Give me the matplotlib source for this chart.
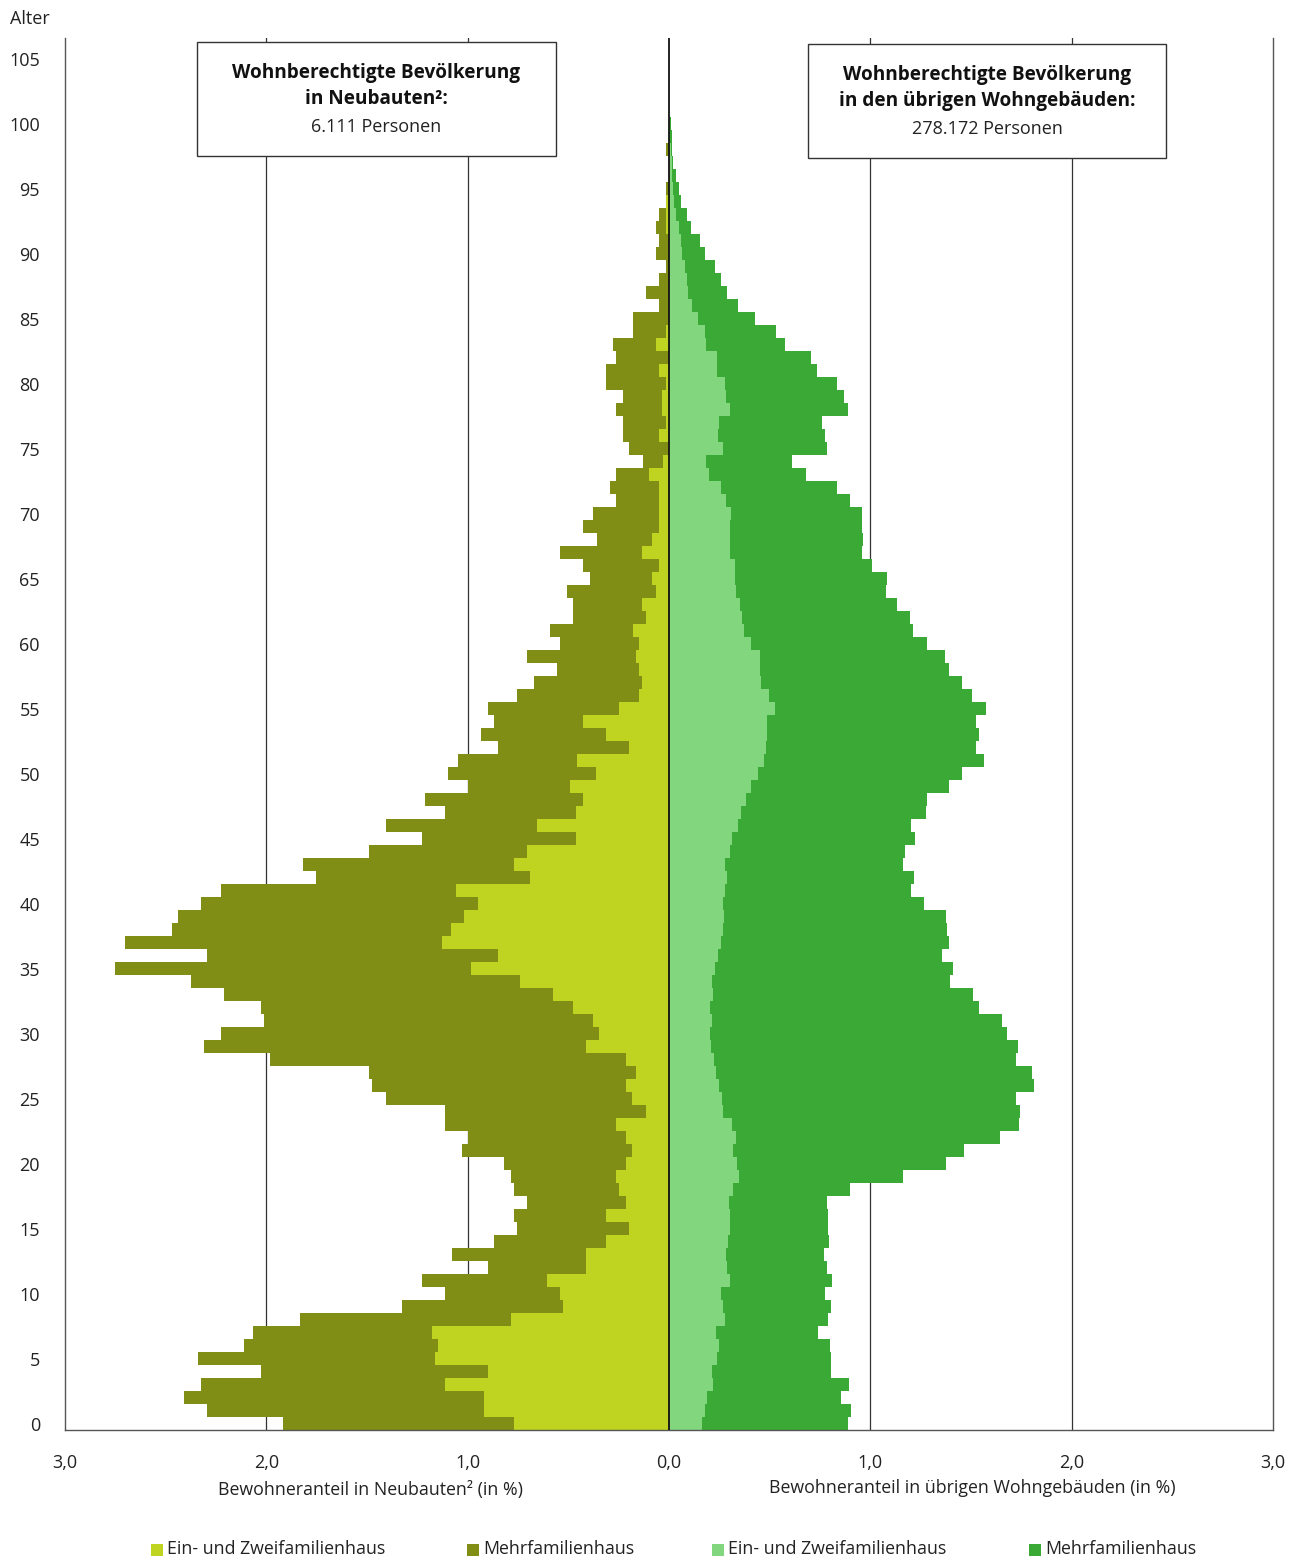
import matplotlib
matplotlib.use("Agg")
import matplotlib.pyplot as plt
from matplotlib.patches import Rectangle

plt.rcParams['font.family'] = ['Open Sans', 'DejaVu Sans']

ages = list(range(0, 101))

# Neubauten (left side), share in %
neu_ein = [0.770, 0.918, 0.918, 1.113, 0.901, 1.161, 1.147, 1.177, 0.785, 0.525,
           0.541, 0.605, 0.410, 0.410, 0.312, 0.199, 0.312, 0.215, 0.246, 0.262,
           0.215, 0.183, 0.215, 0.262, 0.115, 0.183, 0.215, 0.165, 0.215, 0.410,
           0.346, 0.378, 0.477, 0.574, 0.738, 0.982, 0.851, 1.129, 1.082, 1.016,
           0.950, 1.060, 0.688, 0.770, 0.706, 0.461, 0.654, 0.461, 0.429, 0.493,
           0.362, 0.459, 0.197, 0.313, 0.427, 0.247, 0.149, 0.132, 0.149, 0.164,
           0.149, 0.180, 0.116, 0.132, 0.066, 0.083, 0.050, 0.132, 0.083, 0.050,
           0.050, 0.050, 0.050, 0.099, 0.031, 0.000, 0.050, 0.017, 0.033, 0.033,
           0.017, 0.050, 0.000, 0.066, 0.017, 0.000, 0.000, 0.000, 0.000, 0.000,
           0.000, 0.000, 0.017, 0.017, 0.017, 0.000, 0.000, 0.000, 0.000, 0.000,
           0.000]
neu_mehr = [1.147, 1.375, 1.490, 1.210, 1.127, 1.179, 0.966, 0.887, 1.047, 0.799,
            0.571, 0.620, 0.491, 0.668, 0.557, 0.555, 0.458, 0.491, 0.524, 0.523,
            0.604, 0.847, 0.785, 0.850, 0.997, 1.225, 1.258, 1.324, 1.765, 1.899,
            1.881, 1.636, 1.551, 1.635, 1.634, 1.768, 1.442, 1.571, 1.388, 1.422,
            1.373, 1.167, 1.064, 1.047, 0.783, 0.766, 0.754, 0.651, 0.782, 0.507,
            0.736, 0.588, 0.654, 0.621, 0.441, 0.654, 0.604, 0.539, 0.407, 0.540,
            0.391, 0.410, 0.359, 0.343, 0.441, 0.309, 0.376, 0.408, 0.276, 0.376,
            0.326, 0.213, 0.243, 0.164, 0.100, 0.197, 0.180, 0.213, 0.230, 0.197,
            0.294, 0.261, 0.263, 0.212, 0.163, 0.180, 0.050, 0.114, 0.050, 0.017,
            0.065, 0.050, 0.048, 0.033, 0.000, 0.017, 0.000, 0.000, 0.017, 0.000,
            0.000]

# Uebrige Wohngebaeude (right side), share in %
ueb_ein = [0.164, 0.180, 0.190, 0.217, 0.214, 0.238, 0.247, 0.233, 0.278, 0.268,
           0.257, 0.305, 0.286, 0.285, 0.295, 0.301, 0.303, 0.296, 0.318, 0.349,
           0.339, 0.316, 0.334, 0.313, 0.268, 0.262, 0.250, 0.233, 0.224, 0.210,
           0.204, 0.214, 0.204, 0.217, 0.214, 0.227, 0.242, 0.257, 0.267, 0.275,
           0.268, 0.280, 0.290, 0.278, 0.301, 0.311, 0.341, 0.359, 0.383, 0.407,
           0.442, 0.474, 0.482, 0.485, 0.485, 0.527, 0.498, 0.457, 0.452, 0.452,
           0.406, 0.374, 0.364, 0.353, 0.333, 0.328, 0.328, 0.303, 0.303, 0.303,
           0.308, 0.283, 0.260, 0.197, 0.184, 0.267, 0.245, 0.248, 0.303, 0.283,
           0.278, 0.240, 0.237, 0.184, 0.179, 0.144, 0.114, 0.093, 0.091, 0.078,
           0.066, 0.058, 0.050, 0.036, 0.025, 0.020, 0.017, 0.013, 0.010, 0.007,
           0.004]
ueb_mehr = [0.725, 0.724, 0.663, 0.677, 0.592, 0.568, 0.554, 0.506, 0.510, 0.537,
            0.516, 0.506, 0.501, 0.487, 0.498, 0.489, 0.487, 0.491, 0.583, 0.813,
            1.037, 1.148, 1.310, 1.424, 1.474, 1.460, 1.565, 1.569, 1.500, 1.525,
            1.477, 1.440, 1.334, 1.292, 1.182, 1.185, 1.116, 1.134, 1.112, 1.099,
            0.999, 0.921, 0.927, 0.884, 0.873, 0.913, 0.861, 0.916, 0.900, 0.984,
            1.012, 1.091, 1.043, 1.053, 1.038, 1.049, 1.009, 1.000, 0.941, 0.917,
            0.876, 0.838, 0.833, 0.778, 0.747, 0.753, 0.680, 0.654, 0.661, 0.657,
            0.649, 0.614, 0.576, 0.484, 0.425, 0.520, 0.528, 0.510, 0.586, 0.588,
            0.555, 0.497, 0.470, 0.394, 0.354, 0.285, 0.227, 0.197, 0.167, 0.152,
            0.113, 0.096, 0.059, 0.052, 0.036, 0.031, 0.018, 0.009, 0.007, 0.006,
            0.004]

x_ticks = [-3, -2, -1, 0, 1, 2, 3]
x_ticklabels = ['3,0', '2,0', '1,0', '0,0', '1,0', '2,0', '3,0']
y_ticks = list(range(0, 106, 5))

legend_labels = ['Ein- und Zweifamilienhaus', 'Mehrfamilienhaus',
                 'Ein- und Zweifamilienhaus', 'Mehrfamilienhaus']

C_NEU_EIN = '#BFD420'
C_NEU_MEHR = '#808E16'
C_UEB_EIN = '#82D67E'
C_UEB_MEHR = '#3BA935'

W, H = 1296, 1562
fig = plt.figure(figsize=(W / 100, H / 100), dpi=100)
ax = fig.add_axes([65 / W, (H - 1430) / H, (1273 - 65) / W, (1430 - 38) / H])

neg_ein = [-v for v in neu_ein]
neg_mehr = [-v for v in neu_mehr]
ax.barh(ages, neg_ein, height=1.0, color=C_NEU_EIN, lw=0, zorder=2)
ax.barh(ages, neg_mehr, left=neg_ein, height=1.0, color=C_NEU_MEHR, lw=0, zorder=2)
ax.barh(ages, ueb_ein, height=1.0, color=C_UEB_EIN, lw=0, zorder=2)
ax.barh(ages, ueb_mehr, left=ueb_ein, height=1.0, color=C_UEB_MEHR, lw=0, zorder=2)

ax.set_xlim(-3, 3)
ax.set_ylim(-0.5, 106.6)
for gx in [-2, -1, 1, 2]:
    ax.axvline(gx, color='#333333', lw=0.9, zorder=1)
ax.axvline(0, color='#111111', lw=1.3, zorder=3)

ax.spines['top'].set_visible(False)
for s in ['left', 'right', 'bottom']:
    ax.spines[s].set_color('#555555')
    ax.spines[s].set_linewidth(1.0)

ax.set_xticks(x_ticks)
ax.set_xticklabels(x_ticklabels)
ax.set_yticks(y_ticks)
ax.set_yticklabels([str(v) for v in y_ticks])
ax.tick_params(axis='both', length=0, labelsize=13, colors='#222222')
ax.tick_params(axis='x', pad=17)
ax.tick_params(axis='y', pad=18)

def fx(px):
    return px / W

def fy(py):
    return 1 - py / H

fig.text(fx(30), fy(19), 'Alter', ha='center', va='center', fontsize=13, color='#222222')
fig.text(fx(370), fy(1490), 'Bewohneranteil in Neubauten² (in %)', ha='center', va='center',
         fontsize=12.8, color='#222222')
fig.text(fx(972), fy(1488), 'Bewohneranteil in übrigen Wohngebäuden (in %)', ha='center',
         va='center', fontsize=12.8, color='#222222')

# info boxes
boxes = [
    (197, 42, 556, 156, 'Wohnberechtigte Bevölkerung', 'in Neubauten²:', '6.111 Personen'),
    (808, 44, 1166, 158, 'Wohnberechtigte Bevölkerung', 'in den übrigen Wohngebäuden:', '278.172 Personen'),
]
for x0, y0, x1, y1, l1, l2, l3 in boxes:
    fig.add_artist(Rectangle((fx(x0), fy(y1)), fx(x1 - x0), (y1 - y0) / H,
                             transform=fig.transFigure, facecolor='white',
                             edgecolor='#333333', lw=1.0, zorder=5))
    cx = (x0 + x1) / 2
    fig.text(fx(cx), fy(y0 + 31), l1, ha='center', va='center', fontsize=13.7,
             fontweight='bold', color='#111111', zorder=6)
    fig.text(fx(cx), fy(y0 + 57), l2, ha='center', va='center', fontsize=13.7,
             fontweight='bold', color='#111111', zorder=6)
    fig.text(fx(cx), fy(y0 + 85), l3, ha='center', va='center', fontsize=13,
             color='#222222', zorder=6)

# legend
leg_x = [151, 467, 712, 1029]
leg_colors = [C_NEU_EIN, C_NEU_MEHR, C_UEB_EIN, C_UEB_MEHR]
for lx, lc, lt in zip(leg_x, leg_colors, legend_labels):
    fig.add_artist(Rectangle((fx(lx), fy(1556)), fx(12), 12 / H,
                             transform=fig.transFigure, facecolor=lc, lw=0))
    fig.text(fx(lx + 16), fy(1549), lt, ha='left', va='center', fontsize=12.8, color='#222222')

fig.savefig('out.png', dpi=100)
